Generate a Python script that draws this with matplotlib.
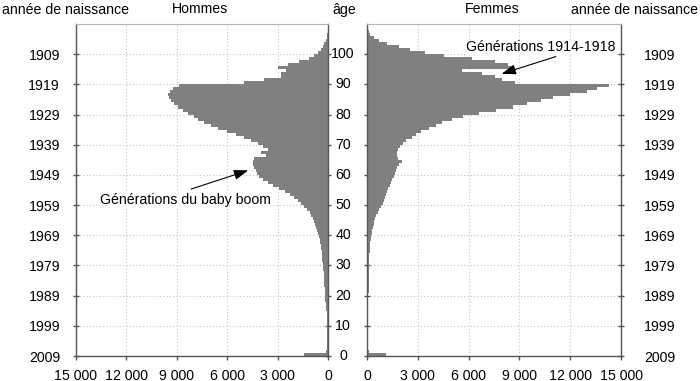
import matplotlib
matplotlib.use('Agg')
import matplotlib.pyplot as plt
from matplotlib.transforms import blended_transform_factory
from matplotlib.ticker import FuncFormatter

plt.rcParams['font.family'] = ['Liberation Sans', 'DejaVu Sans']
plt.rcParams['font.size'] = 10.2

ages = list(range(0, 109))
men = [1450, 110, 80, 65, 60, 55, 50, 50, 50, 50,
       55, 60, 65, 70, 85, 100, 120, 140, 160, 175,
       185, 195, 205, 215, 225, 235, 250, 265, 280, 300,
       315, 330, 345, 360, 380, 400, 430, 465, 505, 545,
       590, 635, 685, 745, 815, 900, 990, 1100, 1240, 1400,
       1580, 1780, 2020, 2280, 2580, 2900, 3260, 3580, 3880, 4080,
       4220, 4300, 4400, 4480, 4480, 4390, 3690, 3990, 3590, 3890,
       4190, 4580, 5000, 5500, 6000, 6550, 6950, 7370, 7750, 7970,
       8350, 8650, 8950, 9150, 9350, 9450, 9540, 9420, 9250, 8850,
       4980, 3790, 2800, 2800, 2500, 2956, 2361, 1706, 1111, 813,
       615, 417, 300, 218, 120, 80, 40, 20, 10]
women = [1120, 100, 70, 55, 50, 45, 40, 40, 40, 40,
         40, 45, 50, 55, 60, 65, 70, 75, 80, 80,
         80, 120, 90, 90, 95, 95, 100, 100, 105, 110,
         115, 120, 130, 140, 150, 165, 185, 205, 230, 255,
         285, 315, 350, 390, 440, 490, 560, 640, 730, 830,
         920, 990, 1080, 1140, 1200, 1260, 1330, 1420, 1500, 1570,
         1630, 1700, 1800, 1900, 2050, 1850, 1770, 1780, 1850, 1970,
         2100, 2300, 2650, 2900, 3200, 3650, 4050, 4450, 5000, 5650,
         6600, 7600, 8650, 9450, 10250, 11000, 12000, 12980, 13570, 14300,
         8760, 8000, 7560, 6800, 5610, 8660, 8300, 7580, 6200, 4530,
         3430, 2560, 1870, 1180, 690, 390, 160, 120, 50]

age_ticks = [0, 10, 20, 30, 40, 50, 60, 70, 80, 90, 100]
year_labels = ['2009', '1999', '1989', '1979', '1969', '1959', '1949', '1939', '1929', '1919', '1909']
x_ticks = [0, 3000, 6000, 9000, 12000, 15000]

W, H = 700, 381
fig = plt.figure(figsize=(W / 100, H / 100), dpi=100)

def fx(px):
    return px / W

def fy(py):
    return 1 - py / H

bar_color = '#808080'
spine_c = '#555555'
grid_c = '#c4c4c4'

axL = fig.add_axes([fx(76), fy(356), (328 - 76) / W, (356 - 24) / H])
axR = fig.add_axes([fx(367), fy(356), (621 - 367) / W, (356 - 24) / H])

fmt = FuncFormatter(lambda v, p: f"{int(v):,}".replace(',', ' '))

for ax, vals in ((axL, men), (axR, women)):
    ax.barh(ages, vals, height=1.0, align='edge', color=bar_color, linewidth=0, zorder=2)
    ax.set_ylim(0, 110)
    ax.set_yticks(age_ticks)
    ax.set_xticks(x_ticks)
    ax.xaxis.set_major_formatter(fmt)
    ax.grid(True, linestyle=(0, (1, 2)), color=grid_c, linewidth=0.8, zorder=0)
    ax.set_axisbelow(True)
    for s in ('left', 'right', 'bottom'):
        ax.spines[s].set_color(spine_c)
        ax.spines[s].set_linewidth(1.0)
    ax.spines['top'].set_color('#b5b5b5')
    ax.spines['top'].set_linewidth(0.8)
    ax.tick_params(axis='x', direction='out', length=3, width=1, color=spine_c, pad=6)

axL.set_xlim(15000, 0)
axR.set_xlim(0, 15000)

axL.tick_params(axis='y', which='both', left=True, right=True, labelleft=True, labelright=False,
                direction='inout', length=5, width=1, color=spine_c, pad=9)
axL.set_yticklabels(year_labels)

axR.tick_params(axis='y', which='both', left=True, right=True, labelleft=False, labelright=True,
                direction='inout', length=5, width=1, color=spine_c, pad=14)
axR.set_yticklabels(year_labels)

tr = blended_transform_factory(fig.transFigure, axL.transData)
for a in age_ticks:
    fig.text(fx(343), a, str(a), transform=tr, ha='center', va='center')

fig.text(fx(2), fy(10), 'année de naissance', ha='left', va='center')
fig.text(fx(200), fy(9), 'Hommes', ha='center', va='center')
fig.text(fx(344), fy(10), 'âge', ha='center', va='center')
fig.text(fx(492), fy(9), 'Femmes', ha='center', va='center')
fig.text(fx(698), fy(10), 'année de naissance', ha='right', va='center')

arrow = dict(arrowstyle='-|>,head_length=0.85,head_width=0.3', color='black', lw=0.8,
             shrinkA=0, shrinkB=0)

axL.text(8500, 51.8, 'Générations du baby boom', ha='center', va='center', zorder=5,
         bbox=dict(facecolor='white', edgecolor='none', pad=0.5))
axL.annotate('', xy=(4750, 61.5), xytext=(8150, 55.3), arrowprops=arrow, zorder=6)

axR.text(10250, 102.3, 'Générations 1914-1918', ha='center', va='center', zorder=5,
         bbox=dict(facecolor='white', edgecolor='none', pad=0.5))
axR.annotate('', xy=(7950, 93.5), xytext=(11150, 99.2), arrowprops=arrow, zorder=6)

fig.savefig('out.png', dpi=100)
